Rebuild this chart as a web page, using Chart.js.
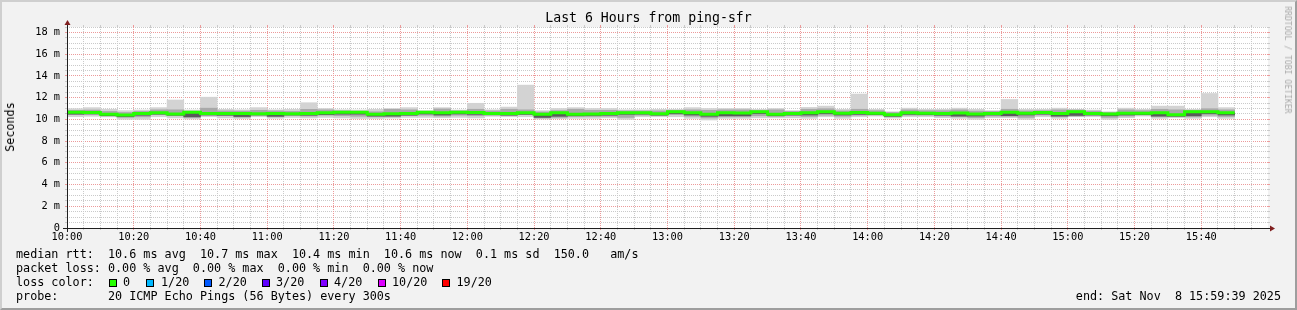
<!DOCTYPE html>
<html><head><meta charset="utf-8">
<script src="https://cdn.jsdelivr.net/npm/chart.js@4.4.1/dist/chart.umd.min.js"></script>
<style>
html,body{margin:0;padding:0;background:#f2f2f2;}
#wrap{position:relative;width:1297px;height:310px;overflow:hidden;background:#f2f2f2;}
#c{position:absolute;left:0;top:0;}
#frame{position:absolute;left:0;top:0;width:1297px;height:310px;box-sizing:border-box;border:2px solid;border-color:#cfcfcf #9e9e9e #9e9e9e #cfcfcf;pointer-events:none;}
.t{position:absolute;font-family:"DejaVu Sans Mono",monospace;color:#000;white-space:pre;}
.lg{font-size:11.76px;line-height:14px;left:16px;}
.sq{position:absolute;width:8px;height:8px;box-sizing:border-box;border:1px solid #000;top:278.5px;}
</style></head>
<body><div id="wrap">
<canvas id="c" width="1297" height="310"></canvas>
<div class="t" id="title" style="left:0;width:1297px;text-align:center;top:10.4px;font-size:13.2px;line-height:16px;">Last 6 Hours from ping-sfr</div>
<div class="t" style="left:10px;top:127px;font-size:11.76px;line-height:14px;transform:translate(-50%,-50%) rotate(-90deg);">Seconds</div>
<div class="t" style="left:1288px;top:60px;font-size:8.1px;line-height:10px;color:#aaaaaa;transform:translate(-50%,-50%) rotate(90deg);">RRDTOOL / TOBI OETIKER</div>
<div class="t lg" id="l1" style="top:247px;"></div>
<div class="t lg" id="l2" style="top:261px;"></div>
<div class="t lg" style="top:275px;">loss color:</div>
<div id="lossLegend"></div>
<div class="t lg" id="l4" style="top:289px;"></div>
<div class="t lg" id="endTxt" style="top:289px;left:auto;right:16px;"></div>
<div id="frame"></div>
</div>
<script>
// ---- data ----
const slots = ["10:00","10:05","10:10","10:15","10:20","10:25","10:30","10:35","10:40","10:45","10:50","10:55",
"11:00","11:05","11:10","11:15","11:20","11:25","11:30","11:35","11:40","11:45","11:50","11:55",
"12:00","12:05","12:10","12:15","12:20","12:25","12:30","12:35","12:40","12:45","12:50","12:55",
"13:00","13:05","13:10","13:15","13:20","13:25","13:30","13:35","13:40","13:45","13:50","13:55",
"14:00","14:05","14:10","14:15","14:20","14:25","14:30","14:35","14:40","14:45","14:50","14:55",
"15:00","15:05","15:10","15:15","15:20","15:25","15:30","15:35","15:40","15:45"];
const smokeMax = [10.98,11.08,10.93,10.80,10.86,11.08,11.78,10.86,12.04,10.92,10.88,11.08,
10.88,10.92,11.53,11.00,10.88,10.86,10.92,11.00,11.08,10.80,11.08,10.86,
11.48,10.88,11.13,13.15,10.80,11.00,11.08,11.00,11.00,10.88,10.88,10.92,
10.92,11.08,11.00,11.00,11.00,10.92,11.00,10.80,11.10,11.22,10.92,12.33,
10.92,10.70,11.03,10.92,10.92,11.03,10.92,10.80,11.83,10.92,10.92,11.03,
10.92,10.86,10.70,11.03,10.92,11.22,11.22,10.92,12.38,11.08];
const smokeMin = [10.25,10.28,10.23,10.00,10.00,10.24,10.13,10.03,10.24,10.13,10.08,10.24,
10.10,10.18,10.13,10.18,10.13,10.08,10.08,10.12,10.18,10.18,10.15,10.18,
10.13,10.28,10.24,10.24,10.03,10.06,10.09,10.09,10.14,10.00,10.24,10.24,
10.24,10.09,9.94,10.09,10.09,10.14,10.14,10.14,10.09,10.24,10.09,10.24,
10.30,10.12,10.24,10.24,10.15,10.09,10.00,10.15,10.15,10.00,10.24,10.09,
10.24,10.24,10.00,10.15,10.30,10.09,10.15,10.09,10.24,10.09];
const midHigh = [10.83,10.86,10.73,10.63,10.73,10.88,10.88,10.73,11.03,10.78,10.76,10.83,
10.78,10.73,10.92,10.88,10.78,10.73,10.70,10.92,10.88,10.73,10.96,10.78,
10.93,10.78,10.93,10.88,10.68,10.80,10.93,10.83,10.83,10.78,10.78,10.78,
10.83,10.88,10.83,10.88,10.88,10.80,10.88,10.73,10.93,10.98,10.78,10.93,
10.80,10.63,10.88,10.80,10.80,10.88,10.76,10.73,10.93,10.78,10.80,10.88,
10.86,10.76,10.63,10.88,10.80,10.93,10.88,10.83,10.98,10.88];
const midLow = [10.43,10.46,10.33,10.18,10.23,10.43,10.33,10.18,10.38,10.33,10.20,10.38,
10.23,10.36,10.30,10.38,10.33,10.28,10.23,10.23,10.36,10.38,10.30,10.38,
10.33,10.40,10.38,10.43,10.13,10.18,10.26,10.26,10.28,10.18,10.38,10.38,
10.43,10.28,10.13,10.23,10.23,10.33,10.28,10.33,10.26,10.38,10.28,10.38,
10.43,10.23,10.38,10.40,10.30,10.23,10.16,10.30,10.30,10.18,10.40,10.23,
10.30,10.36,10.18,10.30,10.43,10.23,10.28,10.23,10.38,10.26];
const innerLow = [10.48,10.50,10.33,10.26,10.38,10.48,10.38,10.23,10.40,10.38,10.26,10.40,
10.28,10.40,10.38,10.44,10.48,10.48,10.30,10.30,10.38,10.50,10.40,10.50,
10.46,10.42,10.38,10.46,10.18,10.28,10.33,10.36,10.38,10.46,10.48,10.38,
10.53,10.40,10.28,10.33,10.33,10.53,10.33,10.40,10.40,10.53,10.40,10.46,
10.42,10.28,10.46,10.42,10.38,10.30,10.30,10.40,10.33,10.40,10.48,10.30,
10.36,10.40,10.33,10.40,10.42,10.30,10.28,10.33,10.53,10.40];
const median = [10.66,10.64,10.46,10.41,10.55,10.60,10.50,10.66,10.53,10.53,10.54,10.52,
10.53,10.52,10.54,10.60,10.66,10.65,10.48,10.51,10.54,10.65,10.60,10.66,
10.63,10.54,10.53,10.60,10.48,10.60,10.48,10.50,10.53,10.61,10.61,10.52,
10.71,10.60,10.48,10.60,10.58,10.71,10.48,10.54,10.61,10.71,10.56,10.64,
10.56,10.43,10.61,10.56,10.53,10.58,10.50,10.54,10.66,10.56,10.64,10.53,
10.71,10.55,10.50,10.56,10.56,10.60,10.43,10.71,10.71,10.60];
const xTickLabels = ["10:00","10:20","10:40","11:00","11:20","11:40","12:00","12:20","12:40","13:00","13:20","13:40",
"14:00","14:20","14:40","15:00","15:20","15:40"];
const yTickLabels = ["0","2 m","4 m","6 m","8 m","10 m","12 m","14 m","16 m","18 m"];
const lossLabels = ["0","1/20","2/20","3/20","4/20","10/20","19/20"];
const lossColors = ["#26ff00","#00b8ff","#0059ff","#5e00ff","#7e00ff","#dd00ff","#ff0000"];
const legendLines = {
  l1: "median rtt:  10.6 ms avg  10.7 ms max  10.4 ms min  10.6 ms now  0.1 ms sd  150.0   am/s",
  l2: "packet loss: 0.00 % avg  0.00 % max  0.00 % min  0.00 % now",
  l4: "probe:       20 ICMP Echo Pings (56 Bytes) every 300s",
  endTxt: "end: Sat Nov  8 15:59:39 2025"
};
// ---- text ----
for (const k in legendLines) document.getElementById(k).textContent = legendLines[k];
const sqX = [108.5,146,204,262,320,377.5,442];
const txX = [123,161,218.5,276,334,392,456.5];
const ll = document.getElementById('lossLegend');
lossLabels.forEach((lab,i)=>{
  const s=document.createElement('div'); s.className='sq'; s.style.left=sqX[i]+'px'; s.style.background=lossColors[i]; ll.appendChild(s);
  const t=document.createElement('div'); t.className='t lg'; t.style.top='275px'; t.style.left=txX[i]+'px'; t.textContent=lab; ll.appendChild(t);
});
// ---- chart ----
const SLOT = 5;
const toMin = s => { const p = s.split(':').map(Number); return (p[0]-10)*60 + p[1]; };
const range = (lo,hi) => slots.map((s,i)=>({x: toMin(s)+SLOT/2, y:[lo[i],hi[i]]}));
const medPts = [];
slots.forEach((s,i)=>{ const t=toMin(s); medPts.push({x:t,y:median[i]},{x:t+SLOT,y:median[i]}); });

const barBase = {type:'bar', grouped:false, barPercentage:1, categoryPercentage:1, borderWidth:0, xAxisID:'x', yAxisID:'y'};
const GRID='#cacaca', MGRID='#ec9a9a';
const FONT={family:'DejaVu Sans Mono', size:10.3};

const rrd = {
  id:'rrd',
  beforeDraw(chart){
    const {ctx, chartArea:a} = chart;
    ctx.save(); ctx.fillStyle='#ffffff'; ctx.fillRect(a.left,a.top,a.right-a.left,a.bottom-a.top); ctx.restore();
  },
  afterDraw(chart){
    const {ctx, chartArea:a} = chart;
    const L=a.left, R=a.right, T=a.top, B=a.bottom;
    ctx.save();
    ctx.strokeStyle='#1f1f1f'; ctx.lineWidth=1;
    ctx.beginPath(); ctx.moveTo(L-4, B+0.5); ctx.lineTo(R+4, B+0.5); ctx.stroke();
    ctx.beginPath(); ctx.moveTo(L+0.5, B+4); ctx.lineTo(L+0.5, T-4); ctx.stroke();
    ctx.fillStyle='#801f1f';
    ctx.beginPath(); ctx.moveTo(R+2, B-2.5); ctx.lineTo(R+2, B+3.5); ctx.lineTo(R+7, B+0.5); ctx.closePath(); ctx.fill();
    ctx.beginPath(); ctx.moveTo(L-2.5, T-2); ctx.lineTo(L+3.5, T-2); ctx.lineTo(L+0.5, T-7); ctx.closePath(); ctx.fill();
    ctx.restore();
  }
};

const xGridColor = c => { const v=c.tick.value; if (v<=0 || v>=360) return 'rgba(0,0,0,0)'; return v%20===0 ? MGRID : GRID; };
const yGridColor = c => { const v=c.tick.value; if (v<=0) return 'rgba(0,0,0,0)'; return (Math.abs(v%2)<1e-9) ? MGRID : GRID; };

new Chart(document.getElementById('c'), {
  type:'bar',
  data:{ datasets:[
    {type:'line', data:medPts, borderColor:'#26ff00', borderWidth:3, pointRadius:0, fill:false, tension:0,
      borderJoinStyle:'miter', borderCapStyle:'butt', order:0, xAxisID:'x', yAxisID:'y'},
    Object.assign({data:range(innerLow, median), backgroundColor:'#5a5a5a', order:1}, barBase),
    Object.assign({data:range(midLow, midHigh), backgroundColor:'#a9a9a9', order:2}, barBase),
    Object.assign({data:range(smokeMin, smokeMax), backgroundColor:'#d3d3d3', order:3}, barBase)
  ]},
  options:{
    responsive:false, animation:false, devicePixelRatio:1, events:[],
    layout:{padding:{left:0,right:27,top:25,bottom:62}},
    plugins:{legend:{display:false}, tooltip:{enabled:false}, title:{display:false}},
    scales:{
      x:{type:'linear', position:'bottom', min:0, max:360, offset:false,
        grid:{offset:false, color:xGridColor, tickColor:xGridColor, tickLength:2, drawTicks:true, lineWidth:1, z:0},
        border:{display:false, dash:[1,1]},
        ticks:{stepSize:5, autoSkip:false, maxRotation:0, minRotation:0, padding:1, font:FONT, color:'#000',
          callback:v => (v%20===0 && v<360) ? xTickLabels[v/20] : ''},
        afterFit:s=>{ s.height=20; }},
      x2:{type:'linear', position:'top', min:0, max:360, offset:false,
        grid:{offset:false, drawOnChartArea:false, color:xGridColor, tickColor:xGridColor, tickLength:2},
        border:{display:false}, ticks:{stepSize:5, autoSkip:false, display:false},
        afterFit:s=>{ s.height=2; }},
      y:{type:'linear', position:'left', min:0, max:18.5,
        grid:{color:yGridColor, tickColor:yGridColor, tickLength:2, lineWidth:1},
        border:{display:false, dash:[1,1]},
        ticks:{stepSize:0.5, autoSkip:false, padding:5, font:FONT, color:'#000',
          callback:v => (Math.abs(v%2)<1e-9 && v<=18) ? yTickLabels[Math.round(v/2)] : ''},
        afterFit:s=>{ s.width=67; }},
      y2:{type:'linear', position:'right', min:0, max:18.5,
        grid:{drawOnChartArea:false, color:yGridColor, tickColor:yGridColor, tickLength:2},
        border:{display:false}, ticks:{stepSize:0.5, autoSkip:false, display:false},
        afterFit:s=>{ s.width=2; }}
    }
  },
  plugins:[rrd]
});
</script>
</body></html>
